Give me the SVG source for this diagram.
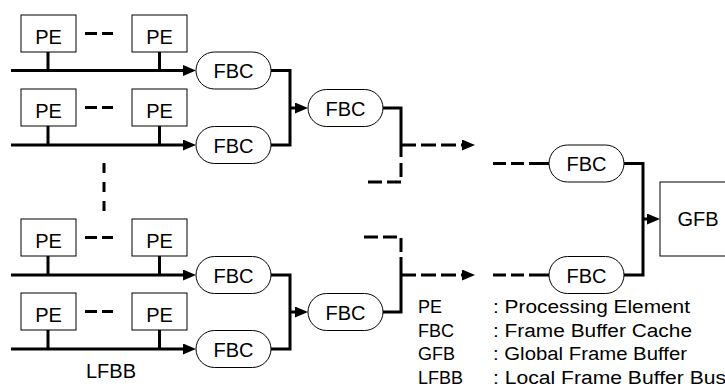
<svg xmlns="http://www.w3.org/2000/svg" width="725" height="390" viewBox="0 0 725 390">
<style>
text{font-family:"Liberation Sans",Arial,Helvetica,sans-serif;fill:#000}
.lbl{font-size:20px;text-anchor:middle}
.leg{font-size:18px}
.box{fill:#fff;stroke:#000;stroke-width:1}
.fbc{fill:#fff;stroke:#000;stroke-width:1}
.w{fill:none;stroke:#000;stroke-width:3}
.d{fill:none;stroke:#000;stroke-width:3;stroke-dasharray:12 5}
</style>
<defs>
<marker id="ah" markerUnits="userSpaceOnUse" markerWidth="13" markerHeight="11" refX="0" refY="5.5" orient="auto">
<path d="M0,0 L13,5.5 L0,11 Z" fill="#000"/>
</marker>
</defs>
<rect width="725" height="390" fill="#fff"/>

<g id="connectors">
<path class="w" d="M48,52 V70.5 M159.5,52 V70.5"/>
<path class="w" d="M48,126 V145 M159.5,126 V145"/>
<path class="w" d="M48,256 V275 M159.5,256 V275"/>
<path class="w" d="M48,330 V349 M159.5,330 V349"/>
<path class="w" d="M11,70.5 H183" marker-end="url(#ah)"/>
<path class="w" d="M11,145 H183" marker-end="url(#ah)"/>
<path class="w" d="M11,275 H183" marker-end="url(#ah)"/>
<path class="w" d="M11,349 H183" marker-end="url(#ah)"/>
<path class="d" d="M85,33.5 H113 M85,107.5 H113 M85,237.5 H113 M85,311.5 H113"/>
<path class="w" d="M104,163 V211" style="stroke-dasharray:10 9"/>
<path class="w" d="M271,70.5 H290 V145 H271"/>
<path class="w" d="M290,108 H295" marker-end="url(#ah)"/>
<path class="w" d="M271,275 H290 V349 H271"/>
<path class="w" d="M290,312 H295" marker-end="url(#ah)"/>
<path class="w" d="M383,108 H401 V157"/>
<path class="w" d="M401,163 V182 H363" style="stroke-dasharray:14 5"/>
<path class="w" d="M401,145 H462" style="stroke-dasharray:15 5" marker-end="url(#ah)"/>
<path class="w" d="M383,312 H401 V257"/>
<path class="w" d="M401,252 V237 H363" style="stroke-dasharray:14 5"/>
<path class="w" d="M401,275 H462" style="stroke-dasharray:15 5" marker-end="url(#ah)"/>
<path class="w" d="M549,163.5 H493" style="stroke-dasharray:20 5 13 5 13"/>
<path class="w" d="M549,275 H493" style="stroke-dasharray:20 5 13 5 13"/>
<path class="w" d="M624,163.5 H643 V275 H624"/>
<path class="w" d="M643,219 H647" marker-end="url(#ah)"/>
</g>

<g id="pe-1a"><rect class="box" x="21" y="15" width="55" height="37"/><text class="lbl" x="48.5" y="44">PE</text></g>
<g id="pe-1b"><rect class="box" x="132" y="15" width="55" height="37"/><text class="lbl" x="159.5" y="44">PE</text></g>
<g id="pe-2a"><rect class="box" x="21" y="89" width="55" height="37"/><text class="lbl" x="48.5" y="118">PE</text></g>
<g id="pe-2b"><rect class="box" x="132" y="89" width="55" height="37"/><text class="lbl" x="159.5" y="118">PE</text></g>
<g id="pe-3a"><rect class="box" x="21" y="219" width="55" height="37"/><text class="lbl" x="48.5" y="248">PE</text></g>
<g id="pe-3b"><rect class="box" x="132" y="219" width="55" height="37"/><text class="lbl" x="159.5" y="248">PE</text></g>
<g id="pe-4a"><rect class="box" x="21" y="293" width="55" height="37"/><text class="lbl" x="48.5" y="322">PE</text></g>
<g id="pe-4b"><rect class="box" x="132" y="293" width="55" height="37"/><text class="lbl" x="159.5" y="322">PE</text></g>

<g id="fbc-1"><rect class="fbc" x="196" y="52" width="75" height="37" rx="18.5"/><text class="lbl" x="233.5" y="78">FBC</text></g>
<g id="fbc-2"><rect class="fbc" x="196" y="126.5" width="75" height="37" rx="18.5"/><text class="lbl" x="233.5" y="152.5">FBC</text></g>
<g id="fbc-3"><rect class="fbc" x="308" y="89.5" width="75" height="37" rx="18.5"/><text class="lbl" x="345.5" y="115.5">FBC</text></g>
<g id="fbc-4"><rect class="fbc" x="196" y="256.5" width="75" height="37" rx="18.5"/><text class="lbl" x="233.5" y="282.5">FBC</text></g>
<g id="fbc-5"><rect class="fbc" x="196" y="330.5" width="75" height="37" rx="18.5"/><text class="lbl" x="233.5" y="356.5">FBC</text></g>
<g id="fbc-6"><rect class="fbc" x="308" y="293.5" width="75" height="37" rx="18.5"/><text class="lbl" x="345.5" y="319.5">FBC</text></g>
<g id="fbc-7"><rect class="fbc" x="549" y="145" width="75" height="37" rx="18.5"/><text class="lbl" x="586.5" y="171">FBC</text></g>
<g id="fbc-8"><rect class="fbc" x="549" y="256.5" width="75" height="37" rx="18.5"/><text class="lbl" x="586.5" y="282.5">FBC</text></g>

<g id="gfb"><rect class="box" x="660" y="182" width="80" height="74"/><text class="lbl" x="698" y="226">GFB</text></g>

<g id="lfbb-label"><text class="lbl" x="111" y="378">LFBB</text></g>

<g id="legend">
<text class="leg" x="418" y="313">PE</text>
<text class="leg" x="493" y="313" textLength="197" lengthAdjust="spacingAndGlyphs">: Processing Element</text>
<text class="leg" x="418" y="336.5">FBC</text>
<text class="leg" x="493" y="336.5" textLength="199" lengthAdjust="spacingAndGlyphs">: Frame Buffer Cache</text>
<text class="leg" x="418" y="360">GFB</text>
<text class="leg" x="493" y="360" textLength="194" lengthAdjust="spacingAndGlyphs">: Global Frame Buffer</text>
<text class="leg" x="418" y="383.5">LFBB</text>
<text class="leg" x="493" y="383.5" textLength="233" lengthAdjust="spacingAndGlyphs">: Local Frame Buffer Bus</text>
</g>
</svg>
